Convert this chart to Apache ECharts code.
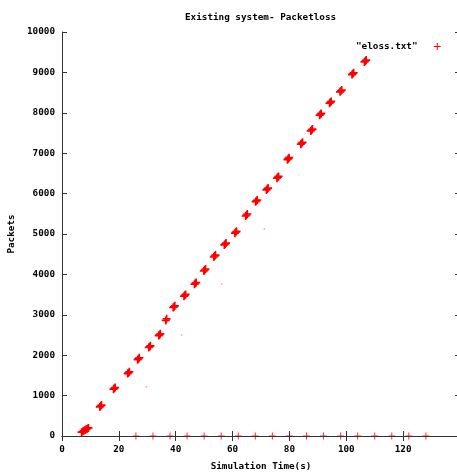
<!DOCTYPE html>
<html>
<head>
<meta charset="utf-8">
<script src="https://cdn.jsdelivr.net/npm/echarts@6/dist/echarts.min.js"></script>
<style>
  html, body { margin: 0; padding: 0; background: #fff; }
  #chart { width: 457px; height: 474px; }
</style>
</head>
<body>
<div id="chart"></div>
<script>
// packet loss samples (time in s, packets)
var lossTime = [6.9, 7.3, 7.7, 8.1, 8.5, 8.9, 9.3,
    13.3, 13.6, 13.9, 18.1, 18.4, 18.7, 23.1, 23.4, 23.7, 26.6, 26.9, 27.2,
    30.5, 30.8, 31.1, 34.0, 34.3, 34.6, 36.5, 36.8, 39.1, 39.4, 39.7,
    42.9, 43.2, 43.5, 46.6, 46.9, 47.2, 49.9, 50.2, 50.5, 53.4, 53.7, 54.0,
    57.1, 57.4, 57.7, 60.8, 61.1, 61.4, 64.6, 64.9, 65.2, 68.1, 68.4, 68.7,
    71.9, 72.2, 72.5, 75.6, 75.9, 76.2, 79.3, 79.6, 79.9, 84.0, 84.3, 84.6,
    87.5, 87.8, 88.1, 90.6, 90.9, 91.2, 94.1, 94.4, 94.7, 97.8, 98.1, 98.4,
    102.0, 102.3, 102.6, 106.4, 106.7, 107.0];
var lossPackets = [95, 112, 130, 148, 165, 182, 200,
    720, 742, 765, 1158, 1180, 1202, 1545, 1567, 1590, 1890, 1914, 1938,
    2190, 2211, 2232, 2485, 2508, 2530, 2860, 2900, 3180, 3201, 3222,
    3460, 3482, 3505, 3758, 3779, 3800, 4085, 4109, 4132, 4432, 4455, 4478,
    4730, 4752, 4775, 5020, 5042, 5065, 5445, 5470, 5495, 5798, 5820, 5842,
    6092, 6114, 6136, 6380, 6403, 6426, 6840, 6865, 6890, 7222, 7245, 7268,
    7552, 7574, 7596, 7940, 7962, 7985, 8238, 8260, 8282, 8518, 8540, 8562,
    8945, 8968, 8990, 9260, 9282, 9305];
// samples sitting on the zero line
var zeroTime = [26, 32, 38, 44, 50, 56, 62, 68, 74, 80, 86, 92, 98, 104, 110, 116, 122, 128];
// faint single dots
var strayTime = [29.7, 42.1, 56.2, 71.2];
var strayPackets = [1221, 2500, 3762, 5124];

var xTicks = { min: 0, max: 140, interval: 20 };
var yTicks = { min: 0, max: 10000, interval: 1000 };

var plusThin = 'path://M3,0H4V3H7V4H4V7H3V4H0V3H3Z';
var plusBold = 'path://M3.2,0H4.8V3.2H8V4.8H4.8V8H3.2V4.8H0V3.2H3.2Z';
var font = 'DejaVu Sans Mono';

var pts = [];
for (var i = 0; i < lossTime.length; i++) pts.push([lossTime[i], lossPackets[i]]);
var zeros = [];
for (var j = 0; j < zeroTime.length; j++) zeros.push([zeroTime[j], 0]);
var stray = [];
for (var k = 0; k < strayTime.length; k++) stray.push([strayTime[k], strayPackets[k]]);

var chart = echarts.init(document.getElementById('chart'));
var txt = { color: '#000', fontFamily: font, fontWeight: 'bold', fontSize: 9.3 };
function axLine() { return { show: true, lineStyle: { color: '#333', width: 1 } }; }
function axTick() { return { show: true, inside: true, length: 5, lineStyle: { color: '#333', width: 1 } }; }
function plain(v) { return String(v); }   // no thousands separator

// y ticks drawn by helper axes shifted 5px into the plot, pointing back to the border
function yTickAxis(pos) {
    return {
        type: 'value', position: pos, offset: -5, min: yTicks.min, max: yTicks.max, interval: yTicks.interval,
        z: 3,
        axisLine: { show: false },
        axisTick: { show: true, inside: false, length: 5, lineStyle: { color: '#333', width: 1 } },
        axisLabel: { show: false }, splitLine: { show: false }
    };
}

var option = {
    animation: false,
    title: {
        text: 'Existing system- Packetloss',
        left: 180, top: 8,
        textStyle: txt
    },
    legend: {
        data: ['"eloss.txt"'],
        left: 351, top: 37,
        align: 'right',
        icon: plusThin,
        itemWidth: 7, itemHeight: 7,
        formatter: function (n) { return n + '  '; },
        textStyle: txt
    },
    grid: { left: 62, top: 32, right: -3, bottom: 38, containLabel: false, outerBoundsMode: 'none' },
    xAxis: [
        {
            type: 'value', min: xTicks.min, max: xTicks.max, interval: xTicks.interval,
            z: 3,
            name: 'Simulation Time(s)', nameLocation: 'middle', nameGap: 26,
            nameTextStyle: txt,
            axisLine: axLine(), axisTick: axTick(),
            axisLabel: { margin: 9, showMaxLabel: false, formatter: plain, color: '#000', fontFamily: font, fontWeight: 'bold', fontSize: 9.3 },
            splitLine: { show: false }
        },
        {
            type: 'value', position: 'top', min: xTicks.min, max: xTicks.max, interval: xTicks.interval,
            z: 3,
            axisLine: axLine(), axisTick: axTick(),
            axisLabel: { show: false }, splitLine: { show: false }
        }
    ],
    yAxis: [
        {
            type: 'value', position: 'left', min: yTicks.min, max: yTicks.max, interval: yTicks.interval,
            z: 3,
            name: 'Packets', nameLocation: 'middle', nameGap: 46,
            nameTextStyle: txt,
            axisLine: axLine(), axisTick: { show: false },
            axisLabel: { margin: 7, formatter: plain, color: '#000', fontFamily: font, fontWeight: 'bold', fontSize: 9.3 },
            splitLine: { show: false }
        },
        yTickAxis('left'),
        yTickAxis('right')
    ],
    series: [
        {
            name: '"eloss.txt"',
            type: 'scatter',
            symbol: plusBold,
            symbolSize: 8,
            itemStyle: { color: '#ff0000', opacity: 1 },
            data: pts
        },
        {
            name: '"eloss.txt"',
            type: 'scatter',
            symbol: plusThin,
            symbolSize: 7,
            itemStyle: { color: '#ff3030', opacity: 1 },
            data: zeros
        },
        {
            name: 'stray',
            type: 'scatter',
            symbol: 'rect',
            symbolSize: 1.5,
            itemStyle: { color: '#ff8080' },
            data: stray
        }
    ]
};
chart.setOption(option);
</script>
</body>
</html>
